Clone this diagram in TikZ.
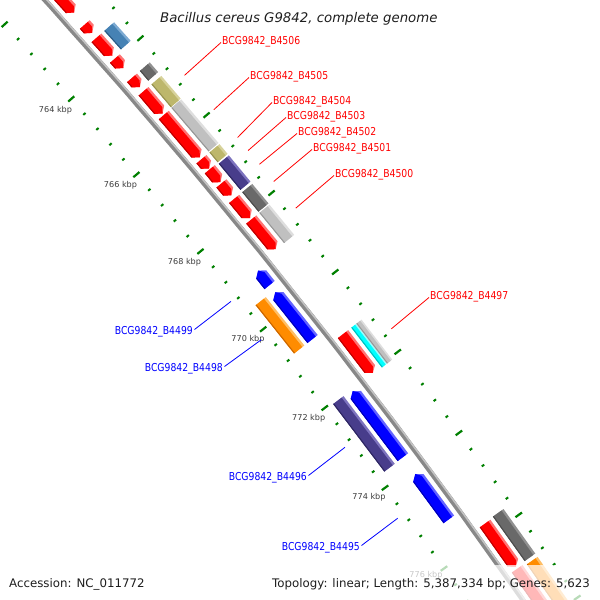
\documentclass[tikz,border=0pt]{standalone}
\usepackage{fontspec}
\setmainfont{DejaVu Sans}
\newfontfamily\lblfont[FakeStretch=0.85]{DejaVu Sans}
\usetikzlibrary{calc}
% colours
\definecolor{redM}{RGB}{255,0,0}\definecolor{redL}{RGB}{255,115,115}\definecolor{redD}{RGB}{185,0,0}
\definecolor{bluM}{RGB}{0,0,255}\definecolor{bluL}{RGB}{100,100,255}\definecolor{bluD}{RGB}{0,0,180}
\definecolor{orgM}{RGB}{255,140,0}\definecolor{orgL}{RGB}{255,190,100}\definecolor{orgD}{RGB}{200,100,0}
\definecolor{slM}{RGB}{72,61,139}\definecolor{slL}{RGB}{125,115,190}\definecolor{slD}{RGB}{45,38,95}
\definecolor{stM}{RGB}{70,130,180}\definecolor{stL}{RGB}{125,170,210}\definecolor{stD}{RGB}{45,90,130}
\definecolor{dgM}{RGB}{105,105,105}\definecolor{dgL}{RGB}{145,145,145}\definecolor{dgD}{RGB}{75,75,75}
\definecolor{lgM}{RGB}{192,192,192}\definecolor{lgL}{RGB}{222,222,222}\definecolor{lgD}{RGB}{150,150,150}
\definecolor{khM}{RGB}{189,183,107}\definecolor{khL}{RGB}{215,210,155}\definecolor{khD}{RGB}{150,145,80}
\definecolor{cyM}{RGB}{0,255,255}\definecolor{cyL}{RGB}{150,255,255}\definecolor{cyD}{RGB}{0,190,190}
\definecolor{tickgreen}{RGB}{0,128,0}
\definecolor{bbM}{RGB}{136,136,136}\definecolor{bbL}{RGB}{195,195,195}
\definecolor{labred}{RGB}{255,0,0}\definecolor{labblue}{RGB}{0,0,255}
\definecolor{kbpgray}{RGB}{60,60,60}\definecolor{textdark}{RGB}{30,30,30}
% genome position (kbp) and radius -> point, relative to the circle centre
\newcommand{\GP}[2]{({-41.23+((#1)-764)*0.464}:{#2})}
% forward arrow: start, end(tip), inner r, outer r, colour prefix
\newcommand{\FwdArrow}[5]{%
  \fill[#5L] \GP{#1}{#3} -- \GP{(#2)-0.1}{#3} -- \GP{#2}{((#3)+(#4))/2} -- \GP{(#2)-0.1}{#4} -- \GP{#1}{#4} -- cycle;
  \fill[#5M] \GP{#1}{#3} -- \GP{(#2)-0.1}{#3} -- \GP{#2}{((#3)+(#4))/2} -- \GP{(#2)-0.1}{(#4)-2.5} -- \GP{#1}{(#4)-2.5} -- cycle;
  \draw[#5D, line width=1] \GP{#1}{(#3)+0.5} -- \GP{(#2)-0.1}{(#3)+0.5};
}
% reverse arrow: start(tip), end, inner r, outer r, colour prefix
\newcommand{\RevArrow}[5]{%
  \fill[#5L] \GP{#1}{((#3)+(#4))/2} -- \GP{(#1)+0.1}{#4} -- \GP{#2}{#4} -- \GP{#2}{#3} -- \GP{(#1)+0.1}{#3} -- cycle;
  \fill[#5M] \GP{#1}{((#3)+(#4))/2} -- \GP{(#1)+0.1}{(#4)-2.5} -- \GP{#2}{(#4)-2.5} -- \GP{#2}{#3} -- \GP{(#1)+0.1}{#3} -- cycle;
  \draw[#5D, line width=1] \GP{(#1)+0.1}{(#3)+0.5} -- \GP{#2}{(#3)+0.5};
}
% box: start, end, inner r, outer r, colour prefix, stripe width
\newcommand{\FeatBox}[6]{%
  \fill[#5L] \GP{#1}{#3} -- \GP{#2}{#3} -- \GP{#2}{#4} -- \GP{#1}{#4} -- cycle;
  \fill[#5M] \GP{#1}{#3} -- \GP{#2}{#3} -- \GP{#2}{(#4)-(#6)} -- \GP{#1}{(#4)-(#6)} -- cycle;
  \draw[#5D, line width=1] \GP{#1}{(#3)+0.5} -- \GP{#2}{(#3)+0.5};
}
\tikzset{
  redlab/.style={font=\lblfont\fontsize{10.9}{12}\selectfont, text=labred, inner sep=0pt},
  bluelab/.style={font=\lblfont\fontsize{10.9}{12}\selectfont, text=labblue, inner sep=0pt},
  redline/.style={labred, line width=0.8},
  blueline/.style={labblue, line width=0.8},
  kbplab/.style={font=\fontsize{8.1}{9}\selectfont, text=kbpgray, inner sep=0pt},
  majtick/.style={tickgreen, line width=2.2},
  mintick/.style={tickgreen, line width=2},
}
\begin{document}
\begin{tikzpicture}[x=1pt,y=-1pt]
\useasboundingbox (0,0) rectangle (600,600);
\fill[white] (0,0) rectangle (600,600);
\begin{scope}
\clip (0,0) rectangle (600,600);
\begin{scope}[shift={(-4570,4167)}]
  % ticks
  \foreach \m in {1900,...,1950}{
    \pgfmathsetmacro{\kb}{\m*0.4}
    \pgfmathtruncatemacro{\ismaj}{mod(\m,5)==0 ? 1 : 0}
    \ifnum\ismaj=1
      \draw[majtick] \GP{\kb}{6168} -- \GP{\kb}{6176};
      \draw[majtick] \GP{\kb}{6260} -- \GP{\kb}{6268};
    \else
      \draw[mintick] \GP{\kb}{6170.5} -- \GP{\kb}{6173.5};
      \draw[mintick] \GP{\kb}{6262.5} -- \GP{\kb}{6265.5};
    \fi
  }
  % backbone
  \draw[bbM, line width=5] plot[domain=760:780, samples=61] ({-41.23+(\x-764)*0.464}:6218);
  \draw[bbL, line width=1.6] plot[domain=760:780, samples=61] ({-41.23+(\x-764)*0.464}:6219.6);
  % forward CDS (ring +1)
  \FwdArrow{761.2}{762.74}{6225}{6238}{red}
  \FwdArrow{763.06}{763.28}{6225}{6238}{red}
  \FwdArrow{763.41}{763.88}{6225}{6238}{red}
  \FwdArrow{763.96}{764.21}{6225}{6238}{red}
  \FwdArrow{764.47}{764.71}{6225}{6238}{red}
  \FwdArrow{764.82}{765.40}{6225}{6238}{red}
  \FwdArrow{765.44}{766.54}{6225}{6238}{red}
  \FwdArrow{766.59}{766.83}{6225}{6238}{red}
  \FwdArrow{766.85}{767.18}{6225}{6238}{red}
  \FwdArrow{767.21}{767.52}{6225}{6238}{red}
  \FwdArrow{767.61}{768.10}{6225}{6238}{red}
  \FwdArrow{768.14}{768.90}{6225}{6238}{red}
  \FwdArrow{771.05}{772.02}{6225}{6238}{red}
  \FwdArrow{775.74}{776.79}{6225}{6238}{red}
  \FwdArrow{776.84}{778.60}{6225}{6238}{red}
  % forward COG (ring +2)
  \FeatBox{763.41}{763.90}{6242}{6255}{st}{2.5}
  \FeatBox{764.47}{764.72}{6242}{6255}{dg}{2.5}
  \FeatBox{764.82}{765.41}{6242}{6255}{kh}{2.5}
  \FeatBox{765.43}{766.56}{6242}{6255}{lg}{2.5}
  \FeatBox{766.59}{766.84}{6242}{6255}{kh}{2.5}
  \FeatBox{766.88}{767.55}{6242}{6255}{sl}{2.5}
  \FeatBox{767.61}{768.11}{6242}{6255}{dg}{2.5}
  \FeatBox{768.14}{768.91}{6242}{6255}{lg}{2.5}
  \FeatBox{771.05}{772.04}{6242}{6248.5}{cy}{1.8}
  \FeatBox{771.05}{772.04}{6248.5}{6255}{lg}{1.8}
  \FeatBox{775.72}{776.80}{6242}{6255}{dg}{2.5}
  \FeatBox{776.88}{778.60}{6242}{6255}{org}{2.5}
  % reverse CDS (ring -1)
  \RevArrow{769.01}{769.38}{6198}{6211}{blu}
  \RevArrow{769.56}{770.75}{6198}{6211}{blu}
  \RevArrow{772.06}{773.71}{6198}{6211}{blu}
  \RevArrow{774.13}{775.25}{6198}{6211}{blu}
  % reverse COG (ring -2)
  \FeatBox{769.52}{770.75}{6181}{6194}{org}{2.5}
  \FeatBox{772.03}{773.72}{6181}{6194}{sl}{2.5}
  % label anchors on the genes
  \path \GP{765.11}{6273} coordinate (c4506);
  \path \GP{766.00}{6273} coordinate (c4505);
  \path \GP{766.72}{6273} coordinate (c4504);
  \path \GP{767.05}{6273} coordinate (c4503);
  \path \GP{767.40}{6273} coordinate (c4502);
  \path \GP{767.84}{6273} coordinate (c4501);
  \path \GP{768.52}{6273} coordinate (c4500);
  \path \GP{771.55}{6273} coordinate (c4497);
  \path \GP{769.15}{6164} coordinate (c4499);
  \path \GP{770.13}{6164} coordinate (c4498);
  \path \GP{772.86}{6164} coordinate (c4496);
  \path \GP{774.63}{6164} coordinate (c4495);
\end{scope}
% kbp labels
\node[kbplab] (k764) at (55.5,110) {764 kbp};
\node[kbplab] (k766) at (120.5,185) {766 kbp};
\node[kbplab] (k768) at (184.5,262) {768 kbp};
\node[kbplab] (k770) at (248,339) {770 kbp};
\node[kbplab] (k772) at (308.7,418) {772 kbp};
\node[kbplab] (k774) at (369,497) {774 kbp};
\node[kbplab] (k776) at (426,575) {776 kbp};
% gene labels
\node[redlab, anchor=base west] (l4506) at (222,44) {BCG9842\_B4506};
\node[redlab, anchor=base west] (l4505) at (250,79) {BCG9842\_B4505};
\node[redlab, anchor=base west] (l4504) at (273,104) {BCG9842\_B4504};
\node[redlab, anchor=base west] (l4503) at (287,119) {BCG9842\_B4503};
\node[redlab, anchor=base west] (l4502) at (298,135) {BCG9842\_B4502};
\node[redlab, anchor=base west] (l4501) at (313,151) {BCG9842\_B4501};
\node[redlab, anchor=base west] (l4500) at (335,177) {BCG9842\_B4500};
\node[redlab, anchor=base west] (l4497) at (430,299) {BCG9842\_B4497};
\node[bluelab, anchor=base east] (l4499) at (193,334) {BCG9842\_B4499};
\node[bluelab, anchor=base east] (l4498) at (223,371) {BCG9842\_B4498};
\node[bluelab, anchor=base east] (l4496) at (307,480) {BCG9842\_B4496};
\node[bluelab, anchor=base east] (l4495) at (360,550) {BCG9842\_B4495};
\foreach \g in {4506,4505,4504,4503,4502,4501,4500,4497}{
  \draw[redline] (c\g) -- ($(l\g.base west)+(-1,-1.5)$);
}
\foreach \g in {4499,4498,4496,4495}{
  \draw[blueline] (c\g) -- ($(l\g.base east)+(1.5,-4.5)$);
}
% footer veil
\fill[white, opacity=0.72] (0,565) rectangle (600,600);
\end{scope}
% title and footer text
\node[anchor=base west, inner sep=0pt, text=textdark, font=\itshape\fontsize{13.3}{15}\selectfont] (title) at (160,22.8) {Bacillus cereus G9842, complete genome};
\node[anchor=base west, inner sep=0pt, text=textdark, font=\fontsize{11.8}{14}\selectfont] (acc) at (9,587) {Accession: NC\_011772};
\node[anchor=base east, inner sep=0pt, text=textdark, font=\fontsize{11.8}{14}\selectfont] (topo) at (590,587) {Topology: linear; Length: 5,387,334 bp; Genes: 5,623};
\end{tikzpicture}
\end{document}
